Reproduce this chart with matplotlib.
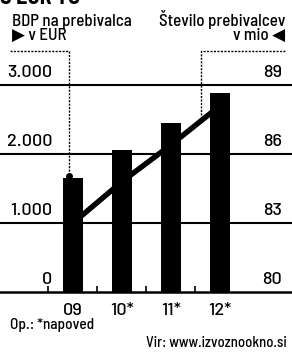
import matplotlib
matplotlib.use("Agg")
import matplotlib.pyplot as plt
from matplotlib import transforms

plt.rcParams['font.family'] = ['Barlow Semi Condensed', 'DejaVu Sans']
plt.rcParams['font.weight'] = 500

categories = ["09", "10*", "11*", "12*"]
gdp = [1650, 2060, 2450, 2880]
population = [83.0, 84.8, 86.4, 88.1]
left_ticks = [0, 1000, 2000, 3000]
left_labels = ["0", "1.000", "2.000", "3.000"]
right_ticks = [80, 83, 86, 89]
right_labels = ["80", "83", "86", "89"]

W, H = 292, 352
fig = plt.figure(figsize=(W / 100, H / 100), dpi=100)

def fx(px):
    return px / W

def fy(py):
    return 1 - py / H

ax = fig.add_axes([0, fy(292), 1, (292 - 85) / H])
ax2 = ax.twinx()
ax.set_zorder(2)
ax.patch.set_visible(False)
ax2.set_zorder(1)

x = list(range(len(categories)))
ax.set_xlim(-73 / 49, (292 - 73) / 49)
ax.set_ylim(0, 3000)
ax2.set_ylim(80, 89)

ax.bar(x, gdp, width=20 / 49, color="black", zorder=3)
ax2.plot(x, population, color="black", lw=3.9, solid_capstyle="butt", zorder=2)

for v in left_ticks[1:]:
    ax.axhline(v, color="black", lw=1.5, zorder=1, clip_on=False)
ax.axhline(0, color="black", lw=1.8, zorder=4, clip_on=False)

for s in list(ax.spines.values()) + list(ax2.spines.values()):
    s.set_visible(False)
ax.set_yticks([])
ax2.set_yticks([])

ax.set_xticks([i - 0.5 for i in x], minor=True)
ax.tick_params(axis="x", which="minor", direction="in", length=4, width=1.2, color="black")
ax.set_xticks(x)
ax.set_xticklabels([])
ax.tick_params(axis="x", which="major", length=0)

num = dict(fontsize=13, family=["Barlow", "DejaVu Sans"], fontweight=500)
txt = dict(fontsize=12.2, fontweight=500)
tl = transforms.blended_transform_factory(ax.transAxes, ax.transData)
tr = transforms.blended_transform_factory(ax2.transAxes, ax2.transData)
off = transforms.ScaledTranslation(0, 8 / 100, fig.dpi_scale_trans)
for v, lab in zip(left_ticks, left_labels):
    ax.text(fx(52), v, lab, transform=tl + off, ha="right", va="baseline", **num)
for v, lab in zip(right_ticks, right_labels):
    ax2.text(fx(282), v, lab, transform=tr + off, ha="right", va="baseline", **num)

# category labels
for i, c in enumerate(categories):
    ax.text(i, 0, c, transform=ax.transData + transforms.ScaledTranslation(0, -23 / 100, fig.dpi_scale_trans),
            ha="center", va="baseline", **num)

# headers
fig.text(fx(0), fy(4), "S EUR TO", fontsize=16, fontweight="bold", ha="left", va="baseline")
fig.text(fx(12), fy(26), "BDP na prebivalca", ha="left", va="baseline", **txt)
fig.text(fx(12), fy(40), "\u25B6 v EUR", ha="left", va="baseline", **txt)
fig.text(fx(285), fy(26), "Število prebivalcev", ha="right", va="baseline", **txt)
fig.text(fx(285), fy(40), "v mio \u25C0", ha="right", va="baseline", **txt)

# dotted connectors
dot = dict(color="black", lw=1.0, ls=(0, (1.5, 1)), transform=fig.transFigure, clip_on=False)
fig.add_artist(plt.Line2D([fx(10), fx(69), fx(69)], [fy(51), fy(51), fy(176)], **dot))
fig.add_artist(plt.Line2D([fx(285), fx(201), fx(201)], [fy(51), fy(51), fy(120)], **dot))
fig.add_artist(plt.Line2D([fx(69)], [fy(176)], marker="o", markersize=4, color="black",
                          transform=fig.transFigure, ls="none"))

fig.text(fx(10), fy(329), "Op.: *napoved", fontsize=11, fontweight=500, ha="left", va="baseline")
fig.text(fx(287), fy(347), "Vir: www.izvoznookno.si", fontsize=10.5, fontweight=500, ha="right", va="baseline")

fig.savefig("out.png", dpi=100)
